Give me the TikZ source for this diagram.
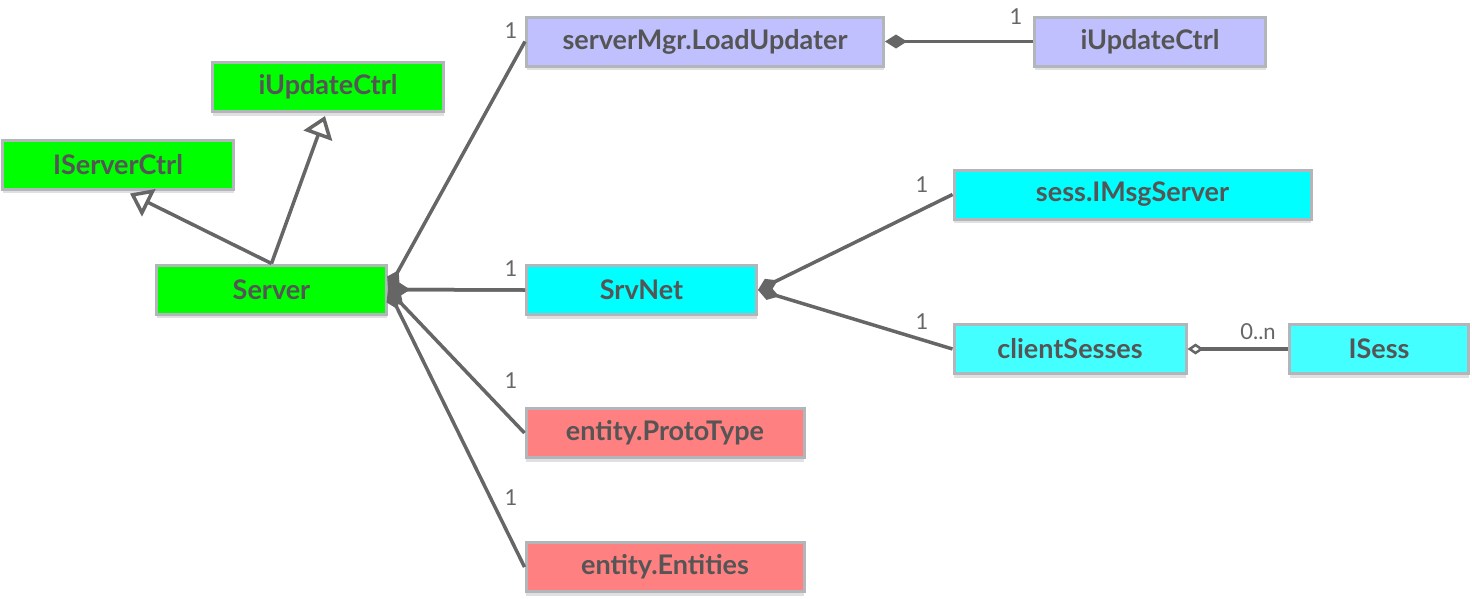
\documentclass[tikz,border=0pt]{standalone}
\usepackage{fontspec}
\setmainfont{Lato}
\usetikzlibrary{arrows.meta,shadows}
\definecolor{boxborder}{HTML}{B2B6BA}
\definecolor{linegray}{HTML}{666666}
\definecolor{txtgray}{HTML}{555555}
\definecolor{cgreen}{HTML}{00FF00}
\definecolor{clav}{HTML}{C0C0FF}
\definecolor{ccyan}{HTML}{00FFFF}
\definecolor{ccyanl}{HTML}{44FFFF}
\definecolor{cred}{HTML}{FF8080}
\tikzset{
  box/.style={draw=boxborder, line width=3pt, minimum height=49pt, inner sep=0pt,
    font=\fontsize{27}{27}\selectfont\bfseries, text=txtgray,
    drop shadow={shadow xshift=0pt, shadow yshift=-4pt, fill=black!12, opacity=1}},
  conn/.style={draw=linegray, line width=3.5pt},
  comp/.style={conn, {Diamond[length=22pt,width=14pt,fill=linegray]}-},
  aggr/.style={conn, {Diamond[open,length=16pt,width=11pt,line width=2.5pt,fill=white]}-},
  inh/.style={conn, -{Triangle[open,length=21pt,width=30pt,line width=3.5pt,fill=white]}},
  mult/.style={font=\fontsize{22}{22}\selectfont, text=linegray, inner sep=0pt}
}
\begin{document}
\begin{tikzpicture}[x=1pt,y=-1pt]
\useasboundingbox (0,0) rectangle (1472,598);
% boxes
\node[box, fill=clav, minimum width=357pt] (loadupd) at (705,41.5) {serverMgr.LoadUpdater};
\node[box, fill=clav, minimum width=231pt] (iupdr) at (1150,41.5) {iUpdateCtrl};
\node[box, fill=cgreen, minimum width=231pt] (iupdl) at (328,87) {iUpdateCtrl};
\node[box, fill=cgreen, minimum width=231pt] (iserver) at (118,164.5) {IServerCtrl};
\node[box, fill=cgreen, minimum width=230pt] (server) at (271.5,289.5) {Server};
\node[box, fill=ccyan, minimum width=230pt] (srvnet) at (641.5,290) {SrvNet};
\node[box, fill=ccyan, minimum width=357pt] (imsg) at (1132.5,194.5) {sess.IMsgServer};
\node[box, fill=ccyanl, minimum width=232pt] (clients) at (1070,349) {clientSesses};
\node[box, fill=ccyanl, minimum width=179pt] (isess) at (1379,349) {ISess};
\node[box, fill=cred, minimum width=278pt] (proto) at (665,433) {entity.ProtoType};
\node[box, fill=cred, minimum width=278pt] (entities) at (665,567) {entity.Entities};
% inheritance
\draw[inh] (server.north) -- ([xshift=-3pt,yshift=-3pt]iupdl.south);
\draw[inh] (server.north) -- ([xshift=12pt,yshift=-3pt]iserver.south);
% composition from Server
\draw[conn, {Diamond[open,length=22pt,width=14pt,line width=2pt,fill=white]}-] (server.east) -- (srvnet.west);
\draw[comp] (server.east) -- (loadupd.west);
\draw[comp] (server.east) -- (proto.west);
\draw[comp] (server.east) -- (entities.west);
\draw[comp] (server.east) -- (srvnet.west);
% composition from SrvNet
\draw[comp] (srvnet.east) -- (imsg.west);
\draw[comp] (srvnet.east) -- (clients.west);
% LoadUpdater -> iUpdateCtrl
\draw[comp] (loadupd.east) -- (iupdr.west);
% aggregation
\draw[aggr] (clients.east) -- (isess.west);
% multiplicities
\node[mult] (m1) at (511,31) {1};
\node[mult] (m2) at (511,269) {1};
\node[mult] (m3) at (511,381) {1};
\node[mult] (m4) at (511,498) {1};
\node[mult] (m5) at (922,185) {1};
\node[mult] (m6) at (922,322) {1};
\node[mult] (m7) at (1016,17) {1};
\node[mult] (m8) at (1258,332) {0..n};
\end{tikzpicture}
\end{document}
